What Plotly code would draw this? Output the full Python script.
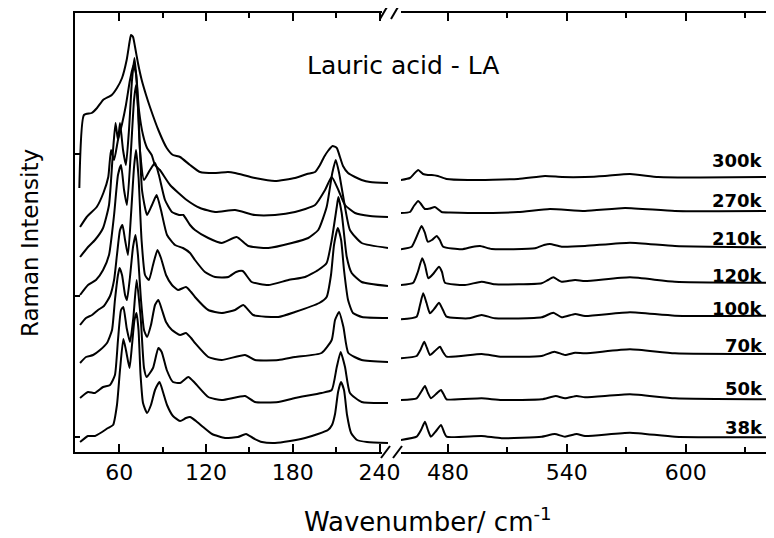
import plotly.graph_objects as go

# ---------------- data (wavenumber in cm-1, Raman intensity in a.u. incl. vertical offset) -------------
TEMPS = ["300k", "270k", "210k", "120k", "100k", "70k", "50k", "38k"]

# low-wavenumber window (30 - 246 cm-1)
L_X_300 = [32.5, 35.7, 41.0, 44.7, 48.9, 54.9, 58.5, 62.0, 65.2, 67.2, 68.2, 69.6, 71.0, 73.0, 75.6, 78.6, 81.3, 87.1, 92.9, 97.2, 102.1, 109.0, 115.9, 126.3, 135.2, 140.1, 153.9, 167.7, 181.5, 189.8, 195.4, 198.8, 201.6, 204.3, 207.5, 210.4, 212.6, 214.7, 218.2, 223.0, 227.6, 233.4, 245.8]
L_Y_300 = [264, 337, 339, 344, 352, 357, 364, 374, 392, 410, 417, 415, 405, 389, 372, 357, 345, 322, 304, 297, 295, 287, 280, 279, 280, 279, 274, 271, 274, 278, 280, 287, 295, 301, 306, 304, 295, 286, 279, 275, 272, 270, 269]

L_X_270 = [33.0, 37.6, 44.5, 49.1, 52.5, 54.4, 56.5, 59.2, 62.0, 64.7, 67.5, 69.9, 71.7, 73.7, 76.5, 79.3, 82.5, 84.8, 88.2, 95.2, 106.7, 115.9, 126.3, 140.1, 153.9, 167.7, 181.5, 195.4, 202.3, 206.9, 211.5, 216.1, 223.0, 233.4, 245.8]
L_Y_270 = [225, 235, 245, 259, 275, 302, 292, 312, 328, 347, 372, 387, 378, 342, 317, 304, 297, 287, 282, 267, 252, 244, 240, 242, 237, 237, 240, 247, 262, 275, 262, 247, 239, 236, 235]

L_X_210 = [33.0, 38.5, 43.3, 48.9, 53.0, 55.8, 57.5, 59.2, 60.6, 62.7, 64.7, 66.8, 68.9, 70.6, 72.3, 74.4, 77.2, 81.3, 84.8, 87.5, 91.7, 96.5, 101.4, 104.3, 109.0, 112.4, 121.6, 130.9, 141.2, 149.3, 163.1, 179.3, 190.7, 197.6, 203.4, 207.3, 209.7, 212.0, 214.9, 219.5, 227.6, 245.8]
L_Y_210 = [195, 205, 212, 224, 247, 302, 329, 312, 329, 302, 287, 322, 372, 394, 367, 302, 272, 282, 289, 277, 252, 240, 237, 237, 227, 222, 214, 209, 215, 206, 204, 209, 214, 222, 245, 279, 292, 279, 255, 222, 209, 204]

L_X_120 = [33.0, 38.5, 44.0, 48.9, 53.0, 56.5, 59.2, 61.3, 63.4, 65.4, 68.2, 70.3, 71.7, 73.4, 75.8, 79.3, 82.7, 85.9, 88.9, 93.1, 98.6, 104.1, 109.0, 112.4, 119.3, 126.3, 135.4, 140.8, 145.4, 151.6, 163.1, 177.0, 188.5, 197.6, 203.4, 206.9, 210.4, 211.5, 213.8, 217.3, 220.7, 227.6, 245.8]
L_Y_120 = [157, 167, 172, 182, 197, 237, 277, 287, 262, 247, 302, 352, 367, 337, 262, 237, 247, 257, 242, 217, 207, 204, 199, 192, 180, 175, 175, 180, 181, 170, 167, 172, 175, 182, 189, 212, 245, 255, 239, 195, 179, 170, 166]

L_X_100 = [33.0, 37.1, 41.3, 45.4, 49.5, 53.7, 56.5, 58.5, 60.6, 62.3, 64.1, 66.1, 68.2, 70.3, 71.7, 73.4, 75.5, 77.9, 80.6, 83.4, 86.5, 88.9, 92.4, 96.5, 100.7, 106.2, 109.7, 112.4, 121.6, 130.9, 140.1, 145.8, 152.7, 170.0, 181.5, 198.3, 203.4, 206.4, 208.5, 211.1, 213.4, 215.4, 218.2, 221.6, 227.8, 245.8]
L_Y_100 = [127, 134, 137, 142, 146, 156, 172, 197, 222, 227, 212, 197, 237, 285, 302, 275, 212, 177, 172, 187, 202, 194, 177, 167, 162, 165, 160, 155, 142, 139, 142, 147, 137, 135, 140, 149, 155, 177, 207, 224, 212, 182, 152, 139, 135, 134]

L_X_70 = [33.0, 37.1, 42.0, 46.8, 51.6, 55.1, 57.1, 59.2, 60.3, 62.0, 64.1, 65.4, 67.5, 69.6, 71.3, 73.0, 75.1, 77.2, 79.3, 82.0, 84.8, 87.1, 89.6, 92.4, 96.5, 102.1, 106.2, 109.7, 112.4, 121.6, 130.9, 147.0, 153.9, 170.0, 181.5, 199.9, 206.9, 209.2, 212.0, 215.0, 218.4, 227.6, 246.0]
L_Y_70 = [89, 95, 97, 102, 109, 122, 152, 177, 184, 177, 157, 152, 175, 205, 217, 197, 152, 122, 115, 127, 147, 152, 142, 130, 122, 117, 119, 114, 109, 95, 92, 97, 92, 92, 95, 99, 112, 132, 140, 125, 99, 92, 90]

L_X_50 = [33.0, 38.5, 43.3, 48.9, 53.7, 57.1, 59.2, 61.3, 62.9, 65.2, 67.5, 69.8, 72.1, 74.9, 77.2, 79.0, 83.4, 87.1, 89.4, 92.9, 97.2, 102.1, 107.8, 112.4, 121.6, 130.9, 147.0, 153.9, 170.0, 181.5, 199.9, 206.9, 210.4, 213.1, 216.1, 219.5, 227.6, 246.0]
L_Y_50 = [54, 60, 59, 65, 67, 77, 112, 142, 145, 124, 110, 134, 172, 134, 84, 75, 84, 104, 100, 82, 70, 69, 75, 69, 55, 52, 56, 50, 50, 54, 59, 62, 85, 100, 85, 59, 50, 49]

L_X_38 = [33.0, 38.5, 43.3, 48.2, 52.3, 55.8, 58.5, 60.6, 62.9, 64.7, 67.2, 68.9, 70.6, 72.0, 73.4, 74.8, 76.5, 79.3, 82.0, 84.8, 87.9, 90.3, 93.1, 97.2, 102.1, 106.2, 109.0, 113.1, 118.0, 124.2, 133.2, 142.1, 147.7, 152.5, 158.7, 167.7, 178.1, 188.5, 197.4, 204.3, 207.1, 209.2, 211.3, 213.3, 215.4, 217.5, 220.3, 224.4, 231.3, 245.8]
L_Y_38 = [10, 16, 16, 20, 24, 27, 47, 82, 113, 102, 84, 107, 132, 139, 122, 77, 49, 39, 47, 62, 70, 60, 47, 36, 31, 34, 35, 31, 25, 18, 14, 15, 18, 14, 10, 9, 11, 14, 18, 22, 27, 38, 60, 70, 62, 37, 19, 12, 10, 9]

# high-wavenumber window (456 - 645 cm-1)
R_X_300 = [456.1, 460.8, 462.8, 465.0, 467.4, 469.9, 471.8, 474.9, 479.3, 490.1, 515.4, 529.0, 537.6, 549.2, 559.3, 571.9, 586.1, 607.3, 644.6]
R_Y_300 = [272, 274, 278, 282, 278, 277, 277, 276, 273, 272, 273, 276, 275, 275, 276, 278, 275, 274.5, 275]

R_X_270 = [456.1, 460.8, 462.8, 465.0, 466.4, 468.4, 470.9, 473.4, 476.8, 481.0, 490.1, 515.4, 531.5, 549.2, 569.4, 594.6, 644.6]
R_Y_270 = [239, 240, 246, 251, 248, 243, 243.5, 245, 240, 239.5, 239, 240, 243, 241, 244, 241, 241]

R_X_210 = [456.1, 461.7, 463.9, 466.7, 468.4, 469.8, 471.9, 474.3, 475.9, 477.6, 486.9, 492.1, 496.2, 502.1, 524.0, 528.5, 531.5, 537.4, 549.2, 571.9, 594.6, 644.6]
R_Y_210 = [202.7, 205.3, 214, 226, 219, 210.3, 212, 216, 212, 205.3, 202.7, 205, 206, 203, 203.7, 207, 208, 205.3, 206, 209.3, 206, 204.7]

R_X_120 = [456.1, 462.5, 464.8, 467.0, 468.4, 470.1, 472.5, 475.5, 477.0, 478.5, 488.6, 497.0, 503.7, 527.3, 530.5, 533.2, 535.6, 537.4, 544.2, 549.2, 571.9, 594.6, 644.6]
R_Y_120 = [167, 169.3, 180, 193.7, 187, 173.7, 178, 185.3, 180, 169.3, 167, 170.3, 167.7, 168.7, 172, 174.7, 172, 170.3, 172, 171, 174.7, 170.3, 169.3]

R_X_100 = [456.1, 464.2, 465.9, 467.5, 469.2, 470.9, 473.4, 475.5, 477.5, 479.3, 490.3, 497.0, 503.7, 527.3, 533.2, 537.4, 544.2, 549.2, 571.9, 594.6, 644.6]
R_Y_100 = [132.7, 135.3, 147, 158.7, 149, 138.7, 144, 149.3, 142, 135.3, 133.7, 137, 133.7, 134.7, 139.3, 134.7, 138, 136, 139.7, 136.3, 136.3]

R_X_70 = [456.1, 464.2, 466.1, 468.0, 469.4, 470.9, 473.4, 476.0, 477.5, 479.3, 497.0, 507.1, 527.3, 533.7, 539.1, 544.2, 549.2, 571.9, 594.6, 644.6]
R_Y_70 = [93.7, 96, 102, 110.3, 104, 97, 101, 105.3, 100, 95.3, 98, 95.3, 96, 100.3, 97, 99.3, 98.7, 102.7, 98.7, 98]

R_X_50 = [456.1, 464.2, 466.4, 468.4, 469.9, 471.4, 474.0, 476.5, 478.0, 479.3, 497.0, 507.1, 527.3, 534.4, 539.1, 545.0, 549.2, 571.9, 594.6, 644.6]
R_Y_50 = [52, 53.7, 60, 66, 59, 53.7, 58, 62, 57, 52.7, 53.7, 52, 52.7, 56, 53.7, 56, 54.7, 57.7, 53.7, 52.7]

R_X_38 = [456.1, 464.2, 466.4, 468.4, 469.9, 471.4, 474.0, 476.5, 478.0, 479.3, 497.0, 507.1, 527.3, 533.9, 539.1, 545.0, 549.2, 571.9, 594.6, 644.6]
R_Y_38 = [12, 15.3, 22, 30.3, 22, 15.3, 21, 27, 20, 15.3, 16, 13.7, 15.3, 18, 15.3, 18, 16, 19.3, 15.3, 14.7]

LABEL_Y = [292, 252, 214, 177, 144, 107, 64, 25]   # label heights in intensity units

LEFT_TICKS = [60, 120, 180, 240]
LEFT_MINOR = [90, 150, 210]
RIGHT_TICKS = [480, 540, 600]
RIGHT_MINOR = [510, 570, 630]
Y_TICKS = [15, 156, 298]

left_series = [(L_X_300, L_Y_300), (L_X_270, L_Y_270), (L_X_210, L_Y_210), (L_X_120, L_Y_120),
               (L_X_100, L_Y_100), (L_X_70, L_Y_70), (L_X_50, L_Y_50), (L_X_38, L_Y_38)]
right_series = [(R_X_300, R_Y_300), (R_X_270, R_Y_270), (R_X_210, R_Y_210), (R_X_120, R_Y_120),
                (R_X_100, R_Y_100), (R_X_70, R_Y_70), (R_X_50, R_Y_50), (R_X_38, R_Y_38)]

# ---------------- figure -------------
# the page has an 8 px body margin, so the figure is laid out 8 px up/left of the target picture
W, H = 774, 538
OFF = 8
ML, MR, MT, MB = 75 - OFF, OFF, 13 - OFF, 538 - 452 + OFF
PL, PR, PT, PB = 75, 774, 13, 452          # plot-area edges in picture pixels


def px(x):
    return (x - PL) / (PR - PL)


def py(y):
    return (PB - y) / (PB - PT)


FONT = "DejaVu Sans"
line_style = dict(color="black", width=2, shape="spline", smoothing=0.5)

fig = go.Figure()
for name, (xs, ys) in zip(TEMPS, left_series):
    fig.add_trace(go.Scatter(x=xs, y=ys, xaxis="x", yaxis="y", mode="lines", line=line_style,
                             name=name, showlegend=False, hoverinfo="skip"))
for name, (xs, ys) in zip(TEMPS, right_series):
    fig.add_trace(go.Scatter(x=xs, y=ys, xaxis="x2", yaxis="y", mode="lines", line=line_style,
                             name=name, showlegend=False, hoverinfo="skip"))

axis_common = dict(showline=True, linecolor="black", linewidth=2, mirror="allticks",
                   ticks="inside", ticklen=8, tickwidth=2, tickcolor="black",
                   showgrid=False, zeroline=False,
                   tickfont=dict(family=FONT, size=22, color="black"))

fig.update_layout(
    width=W, height=H,
    margin=dict(l=ML, r=MR, t=MT, b=MB, autoexpand=False),
    paper_bgcolor="white", plot_bgcolor="white",
    xaxis=dict(domain=[0, px(388)], range=[29.5, 245.8], tickvals=LEFT_TICKS,
               minor=dict(tickvals=LEFT_MINOR, ticks="inside", ticklen=5, tickwidth=2, tickcolor="black"),
               anchor="y", **axis_common),
    xaxis2=dict(domain=[px(401), 1], range=[456.3, 644.6], tickvals=RIGHT_TICKS,
                minor=dict(tickvals=RIGHT_MINOR, ticks="inside", ticklen=5, tickwidth=2, tickcolor="black"),
                anchor="y", **axis_common),
    yaxis=dict(domain=[0, 1], range=[0, 439], tickvals=Y_TICKS, showticklabels=False,
               showline=True, linecolor="black", linewidth=2, ticks="inside", ticklen=5,
               tickwidth=2, tickcolor="black", showgrid=False, zeroline=False),
)

shapes = []
# hide the axis line in the break gap
for yy in (452, 13):
    shapes.append(dict(type="rect", xref="paper", yref="paper", x0=px(382), x1=px(400.5),
                       y0=py(yy + 4), y1=py(yy - 4), fillcolor="white", line=dict(width=0), layer="above"))
# break marks
for (x0, y0, x1, y1) in [(381, 458, 390, 446), (393, 458, 402, 446), (380, 19, 387, 7), (391, 19, 398, 7)]:
    shapes.append(dict(type="line", xref="paper", yref="paper", x0=px(x0), y0=py(y0), x1=px(x1), y1=py(y1),
                       line=dict(color="black", width=2), layer="above"))
fig.update_layout(shapes=shapes)

ann = []
ann.append(dict(text="Lauric acid - LA", xref="paper", yref="paper", x=px(403), y=py(66),
                xanchor="center", yanchor="middle", showarrow=False,
                font=dict(family=FONT, size=25, color="black")))
for t, ly in zip(TEMPS, LABEL_Y):
    ann.append(dict(text="<b>%s</b>" % t, xref="x2", yref="y", x=644.6, y=ly, xshift=-9,
                    xanchor="right", yanchor="middle", showarrow=False,
                    font=dict(family=FONT, size=18, color="black")))
ann.append(dict(text="Wavenumber/ cm<sup>-1</sup>", xref="paper", yref="paper", x=px(428), y=py(520),
                xanchor="center", yanchor="middle", showarrow=False,
                font=dict(family=FONT, size=26, color="black")))
ann.append(dict(text="Raman Intensity", xref="paper", yref="paper", x=px(30), y=py(243),
                xanchor="center", yanchor="middle", showarrow=False, textangle=-90,
                font=dict(family=FONT, size=23, color="black")))
fig.update_layout(annotations=ann)

fig.write_html("out.html")
